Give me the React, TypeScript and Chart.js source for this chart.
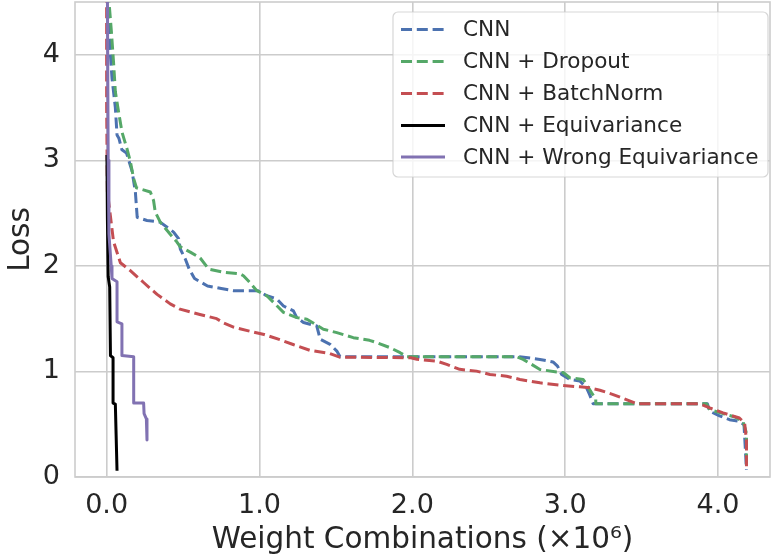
import React, { useEffect, useRef } from "react";
import { Chart, registerables } from "chart.js";

Chart.register(...registerables);

// ---- data (x in units of 10^6 weight combinations) ----
const cnnX = [0.005, 0.02, 0.035, 0.057, 0.068, 0.08, 0.1, 0.13, 0.166, 0.188, 0.2, 0.264, 0.35, 0.438, 0.471, 0.482, 0.514, 0.54, 0.575, 0.66, 0.75, 0.83, 0.99, 1.048, 1.114, 1.157, 1.222, 1.244, 1.288, 1.375, 1.397, 1.462, 1.506, 1.527, 2.7, 2.835, 2.92, 2.95, 2.977, 3.03, 3.096, 3.14, 3.16, 3.183, 3.93, 3.946, 4.01, 4.075, 4.14, 4.17, 4.186];
const cnnY = [4.6, 4.1, 3.78, 3.5, 3.24, 3.21, 3.1, 3.07, 2.9, 2.7, 2.46, 2.43, 2.415, 2.32, 2.257, 2.16, 2.067, 1.97, 1.88, 1.81, 1.785, 1.765, 1.765, 1.717, 1.686, 1.62, 1.574, 1.51, 1.464, 1.43, 1.305, 1.257, 1.193, 1.14, 1.14, 1.114, 1.09, 1.05, 0.971, 0.924, 0.91, 0.845, 0.78, 0.695, 0.695, 0.622, 0.58, 0.543, 0.527, 0.495, 0.067];

const dropoutX = [0.01, 0.031, 0.046, 0.057, 0.078, 0.1, 0.133, 0.155, 0.176, 0.195, 0.286, 0.307, 0.318, 0.351, 0.416, 0.46, 0.482, 0.547, 0.612, 0.667, 0.765, 0.874, 0.895, 0.935, 0.983, 1.048, 1.092, 1.157, 1.244, 1.31, 1.418, 1.506, 1.614, 1.72, 1.767, 1.854, 1.92, 1.963, 2.68, 2.725, 2.78, 2.835, 2.944, 2.987, 3.03, 3.118, 3.14, 3.173, 3.2, 3.2, 3.924, 3.946, 4.033, 4.11, 4.163, 4.186, 4.186];
const dropoutY = [4.6, 4.22, 3.91, 3.65, 3.46, 3.27, 3.11, 2.99, 2.83, 2.74, 2.7, 2.62, 2.51, 2.415, 2.3, 2.226, 2.18, 2.13, 2.075, 1.97, 1.94, 1.924, 1.907, 1.845, 1.765, 1.717, 1.654, 1.56, 1.51, 1.495, 1.4, 1.368, 1.32, 1.295, 1.273, 1.225, 1.178, 1.14, 1.14, 1.114, 1.067, 1.019, 0.994, 0.99, 0.94, 0.924, 0.876, 0.797, 0.74, 0.695, 0.695, 0.638, 0.6, 0.568, 0.527, 0.415, 0.08];

const batchNormX = [0.0, 0.0, 0.005, 0.024, 0.045, 0.09, 0.155, 0.24, 0.33, 0.416, 0.48, 0.61, 0.72, 0.765, 0.83, 0.94, 1.03, 1.135, 1.22, 1.33, 1.46, 1.525, 1.99, 2.03, 2.16, 2.225, 2.31, 2.42, 2.508, 2.617, 2.704, 2.835, 2.987, 3.096, 3.16, 3.227, 3.314, 3.4, 3.467, 3.88, 3.946, 4.033, 4.14, 4.174, 4.186, 4.186];
const batchNormY = [4.6, 3.5, 2.7, 2.48, 2.23, 2.03, 1.955, 1.845, 1.73, 1.64, 1.59, 1.54, 1.5, 1.46, 1.42, 1.38, 1.35, 1.3, 1.255, 1.2, 1.17, 1.135, 1.13, 1.115, 1.098, 1.067, 1.02, 1.003, 0.971, 0.955, 0.924, 0.892, 0.867, 0.854, 0.845, 0.822, 0.781, 0.733, 0.695, 0.695, 0.654, 0.607, 0.559, 0.511, 0.35, 0.067];

const equivX = [0.002, 0.005, 0.01, 0.02, 0.025, 0.042, 0.042, 0.057, 0.062, 0.068];
const equivY = [3.05, 2.45, 1.9, 1.8, 1.15, 1.13, 0.7, 0.69, 0.4, 0.06];

const wrongEquivX = [0.005, 0.01, 0.015, 0.03, 0.035, 0.068, 0.068, 0.1, 0.1, 0.177, 0.177, 0.242, 0.245, 0.26, 0.264];
const wrongEquivY = [4.6, 3.0, 2.3, 2.0, 1.88, 1.85, 1.47, 1.45, 1.15, 1.14, 0.7, 0.7, 0.6, 0.55, 0.35];

const seriesLabels = ["CNN", "CNN + Dropout", "CNN + BatchNorm", "CNN + Equivariance", "CNN + Wrong Equivariance"];
const xTickValues = [0, 1, 2, 3, 4];
const yTickValues = [0, 1, 2, 3, 4];
const xTitle = "Weight Combinations (×10⁶)";
const yTitle = "Loss";

const FONT = "'DejaVu Sans', sans-serif";
const TEXT = "#262626";
const GRID = "#cccccc";

export default function App() {
  const ref = useRef<HTMLCanvasElement>(null);

  useEffect(() => {
    const canvas = ref.current;
    if (!canvas) return;
    const pts = (xs: number[], ys: number[]) => xs.map((x, i) => ({ x, y: ys[i] }));

    const dashed = [11, 4.8];
    const datasets: any[] = [
      { label: seriesLabels[0], data: pts(cnnX, cnnY), borderColor: "#4C72B0", borderDash: dashed, order: 5 },
      { label: seriesLabels[1], data: pts(dropoutX, dropoutY), borderColor: "#55A868", borderDash: dashed, order: 4 },
      { label: seriesLabels[2], data: pts(batchNormX, batchNormY), borderColor: "#C44E52", borderDash: dashed, order: 3 },
      { label: seriesLabels[3], data: pts(equivX, equivY), borderColor: "#000000", borderDash: [], order: 2 },
      { label: seriesLabels[4], data: pts(wrongEquivX, wrongEquivY), borderColor: "#8172B2", borderDash: [], order: 1 },
    ].map((d) => ({
      ...d,
      borderWidth: 3,
      pointRadius: 0,
      tension: 0,
      fill: false,
      borderJoinStyle: "round",
      borderCapStyle: "butt",
    }));

    const framePlugin = {
      id: "frame",
      beforeDatasetsDraw(chart: any) {
        const { ctx, chartArea: a } = chart;
        ctx.save();
        ctx.strokeStyle = GRID;
        ctx.lineWidth = 1.6;
        ctx.strokeRect(a.left, a.top, a.right - a.left, a.bottom - a.top);
        ctx.restore();
      },
    };

    const legendPlugin = {
      id: "insideLegend",
      afterDatasetsDraw(chart: any) {
        const ctx = chart.ctx;
        const bx = 393, by = 12, bw = 375, bh = 165, r = 5;
        ctx.save();
        ctx.beginPath();
        ctx.moveTo(bx + r, by);
        ctx.arcTo(bx + bw, by, bx + bw, by + bh, r);
        ctx.arcTo(bx + bw, by + bh, bx, by + bh, r);
        ctx.arcTo(bx, by + bh, bx, by, r);
        ctx.arcTo(bx, by, bx + bw, by, r);
        ctx.closePath();
        ctx.fillStyle = "rgba(255,255,255,0.8)";
        ctx.fill();
        ctx.strokeStyle = "rgba(204,204,204,0.8)";
        ctx.lineWidth = 1.2;
        ctx.stroke();
        ctx.font = `21.6px ${FONT}`;
        ctx.textBaseline = "middle";
        ctx.textAlign = "left";
        const rowY = [29.5, 61.5, 93.5, 125.5, 157];
        chart.data.datasets.forEach((ds: any, i: number) => {
          const y = rowY[i];
          ctx.beginPath();
          ctx.strokeStyle = ds.borderColor;
          ctx.lineWidth = 3;
          ctx.setLineDash(ds.borderDash || []);
          ctx.moveTo(401, y);
          ctx.lineTo(445, y);
          ctx.stroke();
          ctx.setLineDash([]);
          ctx.fillStyle = TEXT;
          ctx.fillText(ds.label, 463, y + 1);
        });
        ctx.restore();
      },
    };

    const chart = new Chart(canvas, {
      type: "line",
      data: { datasets },
      plugins: [framePlugin, legendPlugin],
      options: {
        animation: false,
        responsive: false,
        devicePixelRatio: 1,
        layout: { padding: { top: 2, right: 1, left: 0, bottom: 0 } },
        plugins: { legend: { display: false }, tooltip: { enabled: false } },
        scales: {
          x: {
            type: "linear",
            min: -0.207,
            max: 4.34,
            afterFit: (s: any) => { s.height = 81; s.paddingLeft = 0; s.paddingRight = 0; },
            afterBuildTicks: (s: any) => { s.ticks = xTickValues.map((v) => ({ value: v })); },
            grid: { color: GRID, lineWidth: 1.6, drawTicks: false },
            border: { display: false },
            ticks: {
              font: { family: FONT, size: 27 },
              color: TEXT,
              padding: 13,
              maxRotation: 0,
              callback: (v: any) => Number(v).toFixed(1),
            },
            title: {
              display: true,
              text: xTitle,
              font: { family: FONT, size: 29.5 },
              color: TEXT,
              padding: { top: 0, bottom: 0 },
            },
          },
          y: {
            type: "linear",
            min: 0,
            max: 4.5,
            afterFit: (s: any) => { s.width = 75; s.paddingTop = 0; s.paddingBottom = 0; },
            afterBuildTicks: (s: any) => { s.ticks = yTickValues.map((v) => ({ value: v })); },
            grid: { color: GRID, lineWidth: 1.6, drawTicks: false },
            border: { display: false },
            ticks: {
              font: { family: FONT, size: 27 },
              color: TEXT,
              padding: 15,
              callback: (v: any) => String(v),
            },
            title: {
              display: true,
              text: yTitle,
              font: { family: FONT, size: 29.5 },
              color: TEXT,
              padding: { top: 4, bottom: 0 },
            },
          },
        },
      } as any,
    });
    return () => chart.destroy();
  }, []);

  return (
    <div style={{ position: "fixed", left: 0, top: 0, width: 771, height: 558, background: "#ffffff" }}>
      <canvas ref={ref} width={771} height={558} style={{ display: "block", width: 771, height: 558 }} />
    </div>
  );
}
